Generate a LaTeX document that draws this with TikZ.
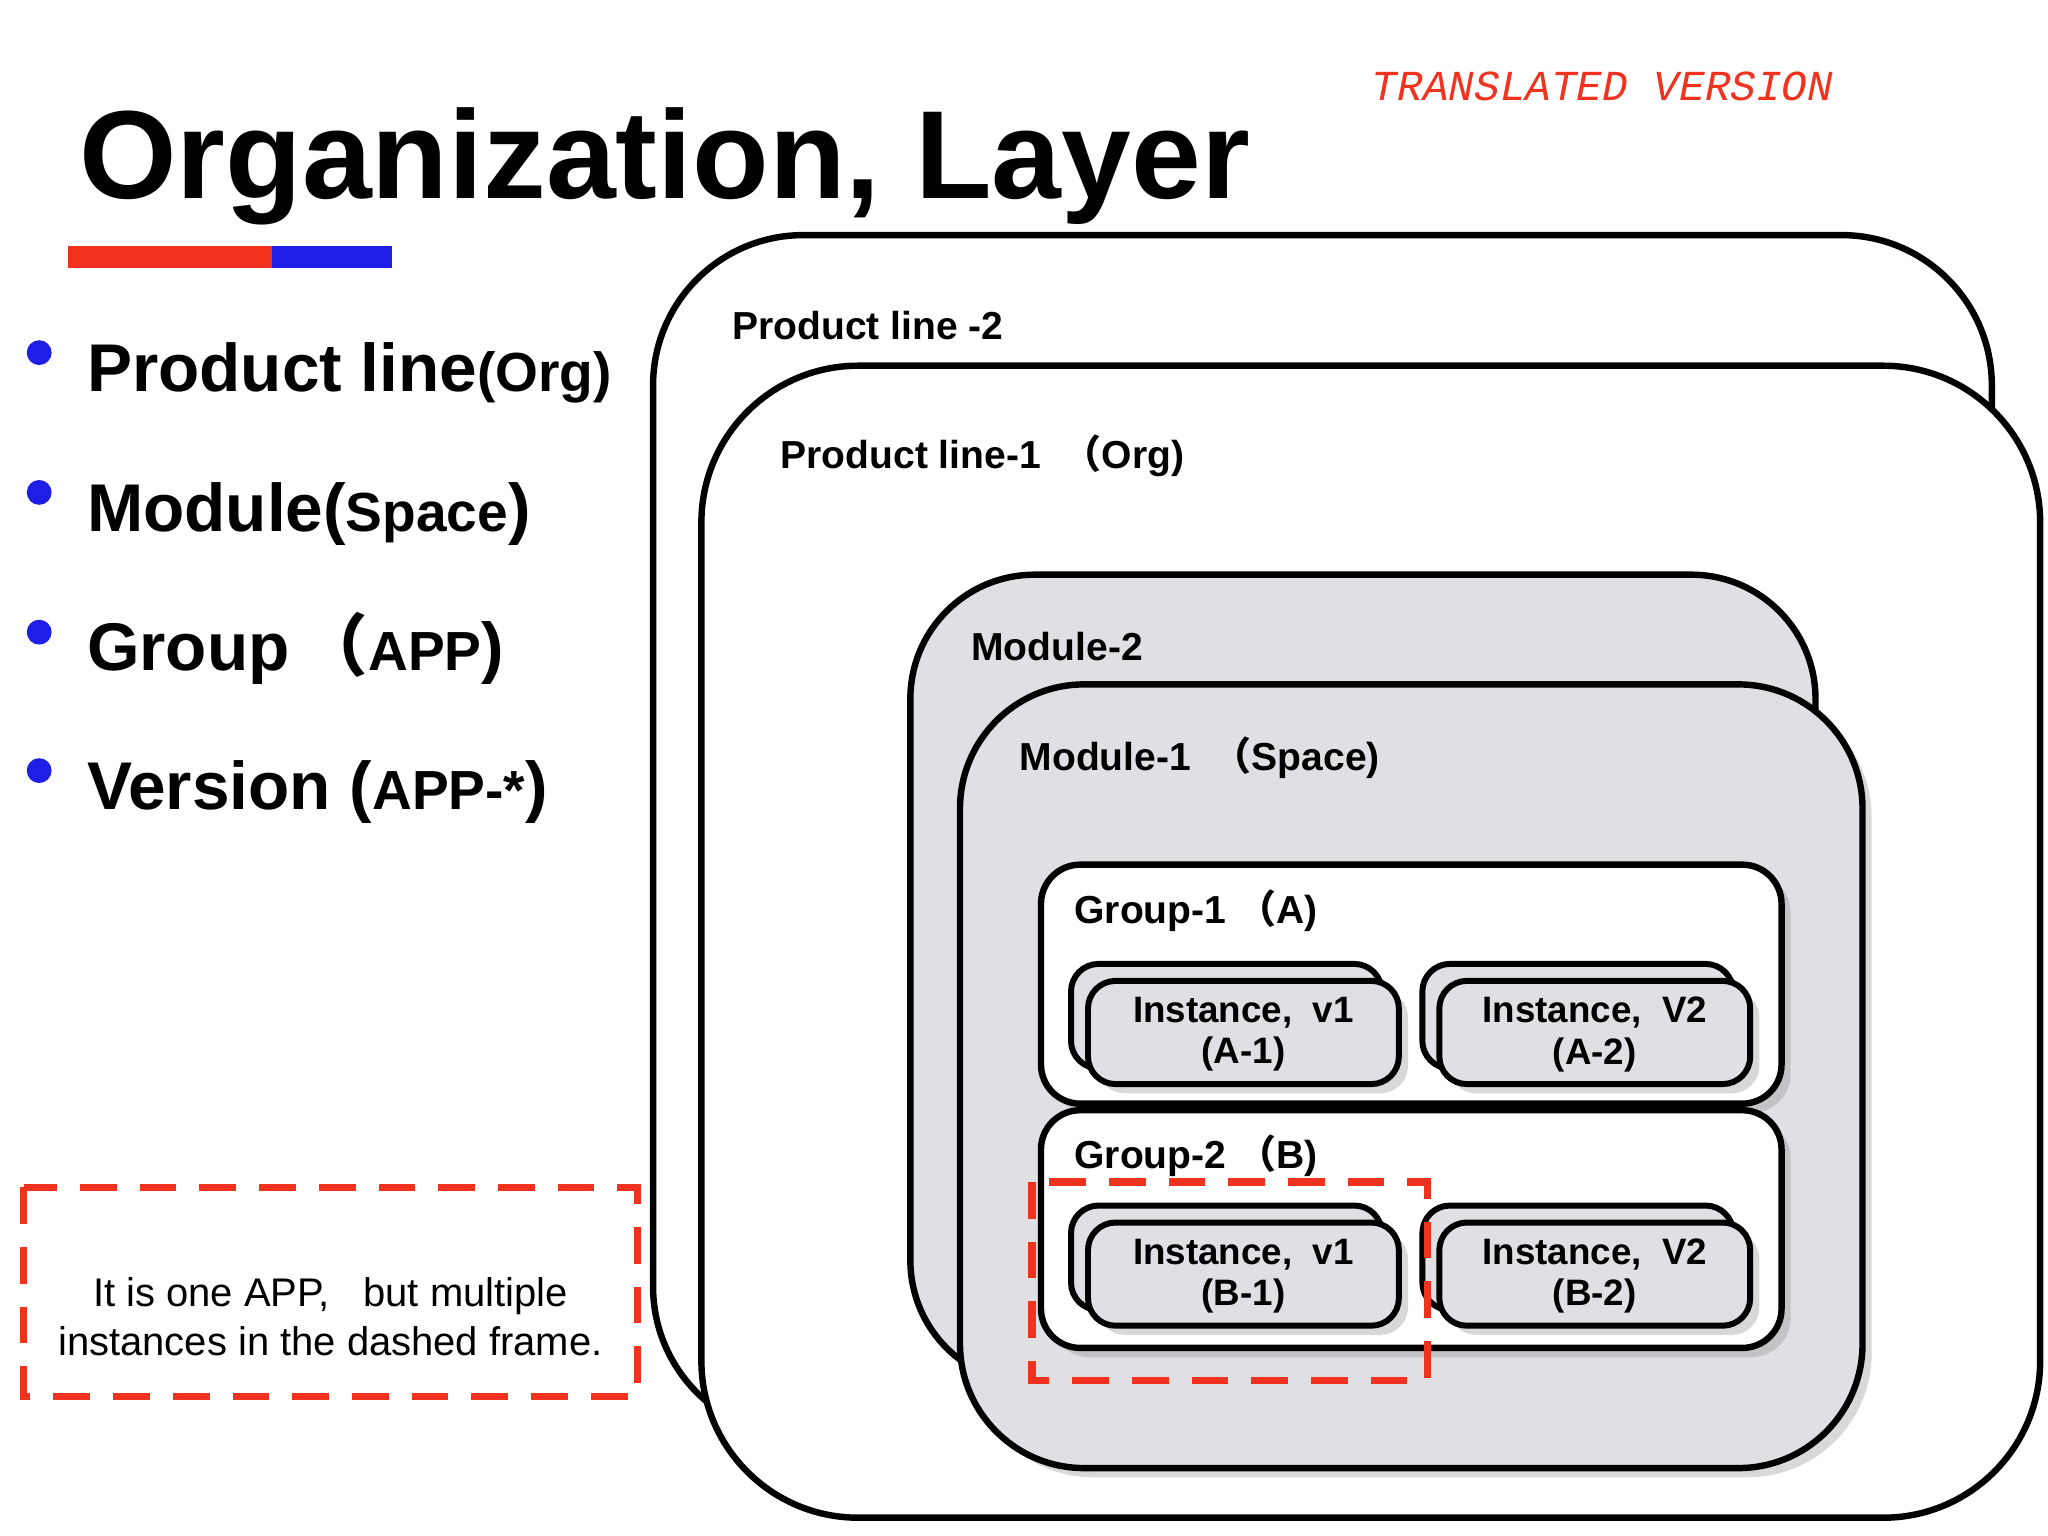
\documentclass[tikz,border=0pt]{standalone}
\usepackage{fontspec}
\setmainfont{Liberation Sans}
\newfontfamily\cjk{Noto Sans CJK SC}
\newfontfamily\monoit{Liberation Mono}
\newcommand\flp{{\cjk （}}
\usetikzlibrary{shadows}
\definecolor{mgray}{RGB}{224,224,228}
\definecolor{dred}{RGB}{240,50,30}
\definecolor{bblue}{RGB}{30,30,230}
\begin{document}
\begin{tikzpicture}[x=0.01cm,y=-0.01cm,
  box/.style={draw=black,line width=1.4pt},
  shd/.style={drop shadow={opacity=0.3,shadow xshift=2pt,shadow yshift=-2pt}},
  lbl/.style={anchor=base west,font=\bfseries\fontsize{8.5}{10}\selectfont,inner sep=0},
  inst/.style={draw=black,line width=1.3pt,fill=mgray,rounded corners=6pt,shd},
  itxt/.style={align=center,font=\bfseries\fontsize{8}{9}\selectfont},
  blt/.style={circle,fill=bblue,inner sep=0,minimum size=0.19cm},
  btxt/.style={anchor=base west,inner sep=0,font=\bfseries\fontsize{14.7}{16}\selectfont}]
\useasboundingbox (0,0) rectangle (1568,1176);
% title
\node[anchor=base west,inner sep=0,font=\bfseries\fontsize{27.3}{30}\selectfont] (title) at (60,152) {Organization, Layer};
\fill[dred] (52,188) rectangle (208,205);
\fill[bblue] (208,188) rectangle (300,205);
\node[anchor=center,text=dred,font=\monoit\itshape\fontsize{9.3}{11}\selectfont] (tv) at (1227,66) {TRANSLATED VERSION};
% bullets
\node[blt] (b1) at (30,270) {};
\node[btxt] (t1) at (66,300) {Product line{\fontsize{12}{13}\selectfont(Org)}};
\node[blt] (b2) at (30,377) {};
\node[btxt] (t2) at (66,407) {Module({\fontsize{12}{13}\selectfont Space})};
\node[blt] (b3) at (30,484) {};
\node[btxt] (t3) at (66,513) {Group\,\flp{\fontsize{12}{13}\selectfont APP})};
\node[blt] (b4) at (30,590) {};
\node[btxt] (t4) at (66,620) {Version ({\fontsize{12}{13}\selectfont APP-*})};
% note
\draw[dred,line width=1.6pt,dash pattern=on 8pt off 5pt] (18,909) rectangle (488,1069);
\node[align=center,font=\fontsize{8.7}{10.7}\selectfont] (note) at (253,1008) {It is one APP,\ \ \ but multiple\\instances in the dashed frame.};
% product lines
\draw[box,fill=white,rounded corners=1.15cm] (500,180) rectangle (1525,1100);
\node[lbl] (pl2) at (560,260) {Product line -2};
\draw[box,fill=white,rounded corners=1.2cm] (537,280) rectangle (1562,1162);
\node[lbl] (pl1) at (597,359) {Product line-1\ \ \flp Org)};
% modules
\draw[box,fill=mgray,rounded corners=0.95cm] (697,440) rectangle (1390,1060);
\node[lbl] (m2) at (743,506) {Module-2};
\draw[box,fill=mgray,rounded corners=0.95cm,shd] (735,524) rectangle (1426,1124);
\node[lbl] (m1) at (780,590) {Module-1\ \ \flp Space)};
% groups
\draw[box,fill=white,rounded corners=0.3cm,shd] (797,662) rectangle (1364,845);
\node[lbl] (g1) at (822,707) {Group-1\ \flp A)};
\draw[box,fill=white,rounded corners=0.3cm,shd] (797,850) rectangle (1364,1032);
\node[lbl] (g2) at (822,895) {Group-2\ \flp B)};
% instances
\foreach \x/\y/\v/\n in {820/738/v1/A-1,1089/738/V2/A-2,820/923/v1/B-1,1089/923/V2/B-2}{
  \draw[inst] (\x,\y) rectangle ++(238,80);
  \draw[inst] (\x+13,\y+13) rectangle ++(238,79);
  \node[itxt] at (\x+132,\y+54) {Instance,\ \ \v\\(\n)};
}
\draw[dred,line width=1.6pt,dash pattern=on 8pt off 5pt] (790,905) rectangle (1093,1057);
\end{tikzpicture}
\end{document}
